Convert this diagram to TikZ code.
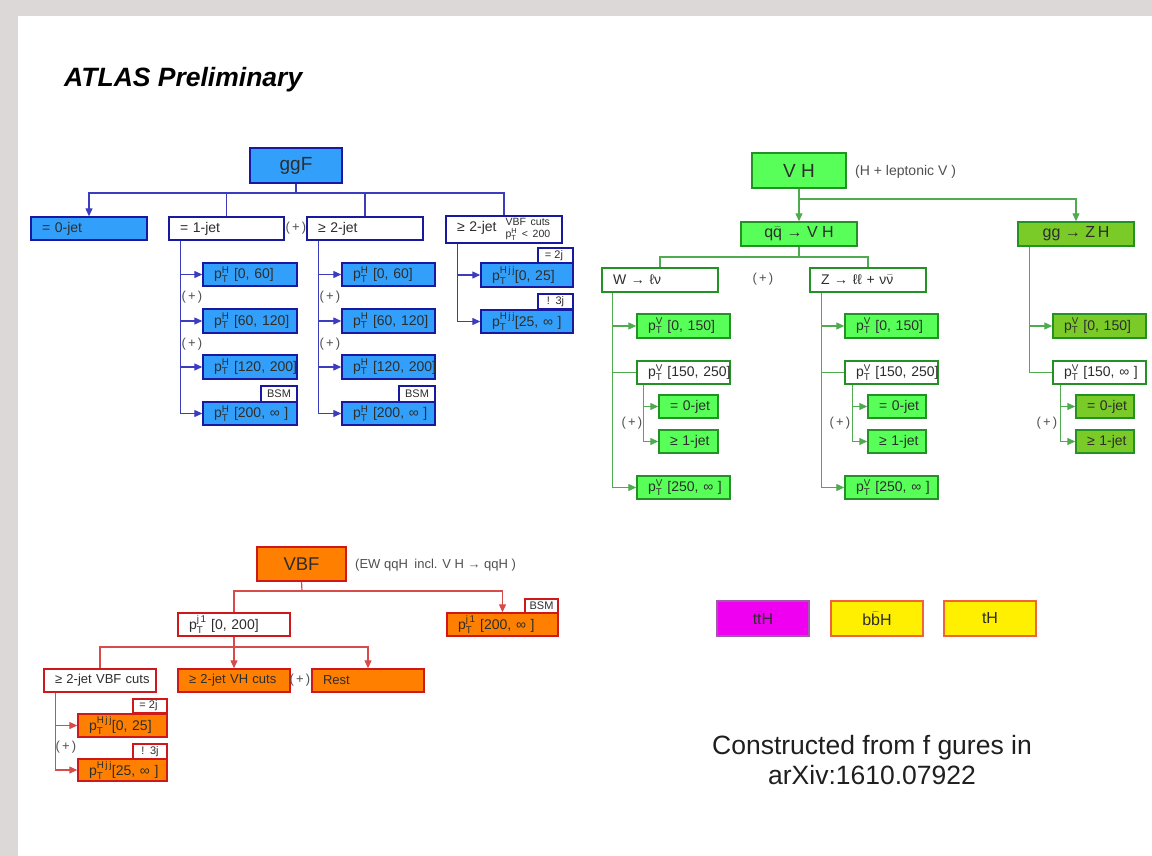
\documentclass[tikz,border=0pt]{standalone}
\usepackage{fontspec}
\setmainfont{Liberation Sans}
\usepackage{amsmath}
\usetikzlibrary{arrows.meta}
\definecolor{bgc}{RGB}{221,216,216}
\definecolor{txt}{RGB}{45,45,45}
\definecolor{plusc}{RGB}{80,80,80}
\definecolor{bfc}{RGB}{50,160,250}
\definecolor{bbord}{RGB}{25,25,160}
\definecolor{bline}{RGB}{60,60,190}
\definecolor{gfc}{RGB}{88,255,88}
\definecolor{gbord}{RGB}{35,145,35}
\definecolor{gline}{RGB}{80,170,80}
\definecolor{ygc}{RGB}{122,202,40}
\definecolor{ofc}{RGB}{255,128,0}
\definecolor{obord}{RGB}{205,25,25}
\definecolor{oline}{RGB}{215,75,75}
\definecolor{mgc}{RGB}{240,0,240}
\definecolor{mgb}{RGB}{160,90,170}
\definecolor{yfc}{RGB}{255,240,0}
\definecolor{yfb}{RGB}{240,100,60}
\newcommand\pTx[1]{p$^{\text{#1}}_{\text{T}}$}
\newcommand\bx[7]{%
  \pgfmathsetmacro\bxw{#4-#2}\pgfmathsetmacro\bxh{#5-#3}%
  \node[#6,inner sep=0pt,minimum width=\bxw pt,minimum height=\bxh pt] (#1) at ({(#2+#4)/2},{(#3+#5)/2}) {#7};}
\newcommand\bxl[7]{%
  \pgfmathsetmacro\bxw{#4-#2}\pgfmathsetmacro\bxh{#5-#3}\pgfmathsetmacro\bxt{#4-#2-22}%
  \node[#6,inner xsep=11pt,inner ysep=0pt,minimum width=\bxw pt,minimum height=\bxh pt,text width=\bxt pt,align=left] (#1) at ({(#2+#4)/2},{(#3+#5)/2}) {\mbox{#7}};}
\tikzset{
  arr/.style={-{Triangle[length=8pt,width=7pt]}},
  bln/.style={draw=bline,line width=1.2pt},
  gln/.style={draw=gline,line width=1.2pt},
  oln/.style={draw=oline,line width=1.2pt},
  bfill/.style={draw=bbord,fill=bfc,line width=1.4pt},
  bwh/.style={draw=bbord,fill=white,line width=1.4pt},
  gfill/.style={draw=gbord,fill=gfc,line width=1.4pt},
  ygfill/.style={draw=gbord,fill=ygc,line width=1.4pt},
  gwh/.style={draw=gbord,fill=white,line width=1.4pt},
  ofill/.style={draw=obord,fill=ofc,line width=1.4pt},
  owh/.style={draw=obord,fill=white,line width=1.4pt},
  tagb/.style={bwh,font=\fontsize{11}{11}\selectfont},
  tago/.style={owh,font=\fontsize{11}{11}\selectfont},
  bigt/.style={font=\fontsize{19}{22}\selectfont},
  midt/.style={font=\fontsize{16}{18}\selectfont},
  smt/.style={font=\fontsize{13}{15}\selectfont},
  plus/.style={text=plusc,font=\fontsize{13}{13}\selectfont,inner sep=0pt},
  note/.style={text=plusc,font=\fontsize{13}{13}\selectfont,inner sep=0pt,anchor=west},
}
\begin{document}
\begin{tikzpicture}[x=1pt,y=-1pt,font=\fontsize{14}{16}\selectfont,text=txt]
\useasboundingbox (0,0) rectangle (1152,856);
\fill[bgc] (0,0) rectangle (1152,856);
\fill[white] (18,16) rectangle (1152,856);

\node[anchor=base west,inner sep=0pt,text=black,font=\fontsize{26.5}{30}\selectfont\bfseries\itshape] (atlas) at (64,87) {ATLAS Preliminary};

% ---------------- ggF ----------------
\bx{ggF}{250}{148}{342}{183}{bfill,bigt}{ggF}
\bxl{j0}{31}{217}{147}{240}{bfill}{= 0-jet}
\bxl{j1}{169}{217}{284}{240}{bwh}{= 1-jet}
\bxl{j2}{307}{217}{423}{240}{bwh}{≥ 2-jet}
\bxl{jv}{446}{216}{562}{243}{bwh}{≥ 2-jet\hspace{9pt}\raisebox{-1pt}{\fontsize{10.5}{11}\selectfont\def\arraystretch{0.85}\begin{tabular}{@{}l@{}}VBF cuts\\\pTx{H} < 200\end{tabular}}}
\node[plus] (pj12) at (296,228) {(\,+\,)};

\bxl{g1a}{203}{263}{297}{286}{bfill}{\pTx{H} [0, 60]}
\bxl{g1b}{203}{309}{297}{333}{bfill}{\pTx{H} [60, 120]}
\bxl{g1c}{203}{355}{297}{379}{bfill}{\pTx{H} [120, 200]}
\bxl{g1d}{203}{402}{297}{425}{bfill}{\pTx{H} [200, ∞ ]}
\bx{t1}{261}{386}{297}{402}{tagb}{BSM}
\node[plus] (p1a) at (192,297) {(\,+\,)};
\node[plus] (p1b) at (192,344) {(\,+\,)};

\bxl{g2a}{342}{263}{435}{286}{bfill}{\pTx{H} [0, 60]}
\bxl{g2b}{342}{309}{435}{333}{bfill}{\pTx{H} [60, 120]}
\bxl{g2c}{342}{355}{435}{379}{bfill}{\pTx{H} [120, 200]}
\bxl{g2d}{342}{402}{435}{425}{bfill}{\pTx{H} [200, ∞ ]}
\bx{t2}{399}{386}{435}{402}{tagb}{BSM}
\node[plus] (p2a) at (330,297) {(\,+\,)};
\node[plus] (p2b) at (330,344) {(\,+\,)};

\bxl{gva}{481}{263}{573}{287}{bfill}{\pTx{H\,j\,j}[0, 25]}
\bxl{gvb}{481}{310}{573}{333}{bfill}{\pTx{H\,j\,j}[25, ∞ ]}
\bx{tv1}{538}{248}{573}{263}{tagb}{\hfill= 2j\kern3pt}
\bx{tv2}{538}{294}{573}{309}{tagb}{!\enspace 3j}

\coordinate (gbus) at (296,193);
\draw[bln] (ggF.south) -- (gbus);
\draw[bln,arr] (gbus) -| (j0.north);
\draw[bln] (gbus) -| (j1.north);
\draw[bln] (gbus) -| (j2.north);
\draw[bln] (gbus) -| (jv.north);
\foreach \c in {g1a,g1b,g1c,g1d}{\draw[bln,arr] ([xshift=12pt]j1.south west) |- (\c.west);}
\foreach \c in {g2a,g2b,g2c,g2d}{\draw[bln,arr] ([xshift=12pt]j2.south west) |- (\c.west);}
\foreach \c in {gva,gvb}{\draw[bln,arr] ([xshift=12pt]jv.south west) |- (\c.west);}

% ---------------- VH ----------------
\bx{VH}{752}{153}{846}{188}{gfill,bigt}{V H}
\node[note,font=\fontsize{14}{14}\selectfont] (vhnote) at (855,172) {(H + leptonic V )};
\bx{qq}{741}{222}{857}{246}{gfill,midt}{q$\bar{\text{q}}$ → V H}
\bx{ggzh}{1018}{222}{1134}{246}{ygfill,midt}{gg → Z\,H}
\bxl{W}{602}{268}{718}{292}{gwh}{W → ℓν}
\bxl{Z}{810}{268}{926}{292}{gwh}{Z → ℓℓ + ν$\bar{\text{ν}}$}
\node[plus] (pwz) at (763,279) {(\,+\,)};

\bxl{w1}{637}{314}{730}{338}{gfill}{\pTx{V} [0, 150]}
\bxl{w2}{637}{361}{730}{384}{gwh}{\pTx{V} [150, 250]}
\bxl{w2a}{659}{395}{718}{418}{gfill}{= 0-jet}
\bxl{w2b}{659}{430}{718}{453}{gfill}{≥ 1-jet}
\bxl{w3}{637}{476}{730}{499}{gfill}{\pTx{V} [250, ∞ ]}
\node[plus] (pw) at (632,423) {(\,+\,)};

\bxl{z1}{845}{314}{938}{338}{gfill}{\pTx{V} [0, 150]}
\bxl{z2}{845}{361}{938}{384}{gwh}{\pTx{V} [150, 250]}
\bxl{z2a}{868}{395}{926}{418}{gfill}{= 0-jet}
\bxl{z2b}{868}{430}{926}{453}{gfill}{≥ 1-jet}
\bxl{z3}{845}{476}{938}{499}{gfill}{\pTx{V} [250, ∞ ]}
\node[plus] (pz) at (840,423) {(\,+\,)};

\bxl{h1}{1053}{314}{1146}{338}{ygfill}{\pTx{V} [0, 150]}
\bxl{h2}{1053}{361}{1146}{384}{gwh}{\pTx{V} [150, ∞ ]}
\bxl{h2a}{1076}{395}{1134}{418}{ygfill}{= 0-jet}
\bxl{h2b}{1076}{430}{1134}{453}{ygfill}{≥ 1-jet}
\node[plus] (ph) at (1047,423) {(\,+\,)};

\coordinate (vbus) at (799,199);
\coordinate (qbus) at (799,257);
\draw[gln] (VH.south) -- (vbus);
\draw[gln,arr] (vbus) -- (qq.north);
\draw[gln,arr] (vbus) -| (ggzh.north);
\draw[gln] (qq.south) -- (qbus);
\draw[gln] (qbus) -| (W.north);
\draw[gln] (qbus) -| (Z.north);
\draw[gln,arr] ([xshift=11pt]W.south west) |- (w1.west);
\draw[gln] ([xshift=11pt]W.south west) |- (w2.west);
\draw[gln,arr] ([xshift=11pt]W.south west) |- (w3.west);
\draw[gln,arr] ([xshift=7pt]w2.south west) |- (w2a.west);
\draw[gln,arr] ([xshift=7pt]w2.south west) |- (w2b.west);
\draw[gln,arr] ([xshift=12pt]Z.south west) |- (z1.west);
\draw[gln] ([xshift=12pt]Z.south west) |- (z2.west);
\draw[gln,arr] ([xshift=12pt]Z.south west) |- (z3.west);
\draw[gln,arr] ([xshift=8pt]z2.south west) |- (z2a.west);
\draw[gln,arr] ([xshift=8pt]z2.south west) |- (z2b.west);
\draw[gln,arr] ([xshift=12pt]ggzh.south west) |- (h1.west);
\draw[gln] ([xshift=12pt]ggzh.south west) |- (h2.west);
\draw[gln,arr] ([xshift=8pt]h2.south west) |- (h2a.west);
\draw[gln,arr] ([xshift=8pt]h2.south west) |- (h2b.west);

% ---------------- VBF ----------------
\bx{VBF}{257}{547}{346}{581}{ofill,font=\fontsize{18.5}{22}\selectfont}{VBF}
\node[note] (vbfnote) at (355,565) {(EW qqH\enspace incl. V H → qqH )};
\bxl{pj1}{178}{613}{290}{636}{owh}{\pTx{j\,1} [0, 200]}
\bxl{pj2}{447}{613}{558}{636}{ofill}{\pTx{j\,1} [200, ∞ ]}
\bx{t3}{525}{599}{558}{613}{tago}{BSM}
\bxl{vbfc}{44}{669}{156}{692}{owh,smt}{≥ 2-jet VBF cuts}
\bxl{vhc}{178}{669}{290}{692}{ofill,smt}{≥ 2-jet VH cuts}
\bxl{rest}{312}{669}{424}{692}{ofill,smt}{Rest}
\node[plus] (pvr) at (300,680) {(\,+\,)};
\bxl{vc1}{78}{714}{167}{737}{ofill}{\pTx{H\,j\,j}[0, 25]}
\bxl{vc2}{78}{759}{167}{781}{ofill}{\pTx{H\,j\,j}[25, ∞ ]}
\bx{t4}{133}{699}{167}{713}{tago}{\hfill= 2j\kern3pt}
\bx{t5}{133}{744}{167}{759}{tago}{!\enspace 3j}
\node[plus] (pvc) at (66,747) {(\,+\,)};

\coordinate (obus) at (302,591);
\coordinate (pbus) at (234,647);
\draw[oln] (VBF.south) -- (obus);
\draw[oln] (obus) -| (pj1.north);
\draw[oln,arr] (obus) -| (pj2.north);
\draw[oln,arr] (pj1.south) -- (vhc.north);
\draw[oln] (pbus) -| (vbfc.north);
\draw[oln,arr] (pbus) -| (rest.north);
\draw[oln,arr] ([xshift=12pt]vbfc.south west) |- (vc1.west);
\draw[oln,arr] ([xshift=12pt]vbfc.south west) |- (vc2.west);

% ---------------- others ----------------
\bx{ttH}{717}{601}{809}{636}{draw=mgb,fill=mgc,line width=1.2pt,midt}{t$\bar{\text{t}}$H}
\bx{bbH}{831}{601}{923}{636}{draw=yfb,fill=yfc,line width=1.2pt,midt}{b$\bar{\text{b}}$H}
\bx{tH}{944}{601}{1036}{636}{draw=yfb,fill=yfc,line width=1.2pt,midt}{tH}

\node[align=center,text=black!88,font=\fontsize{26.5}{30}\selectfont,inner sep=0pt] (src) at (872,760) {Constructed from f gures in\\arXiv:1610.07922};
\end{tikzpicture}
\end{document}
